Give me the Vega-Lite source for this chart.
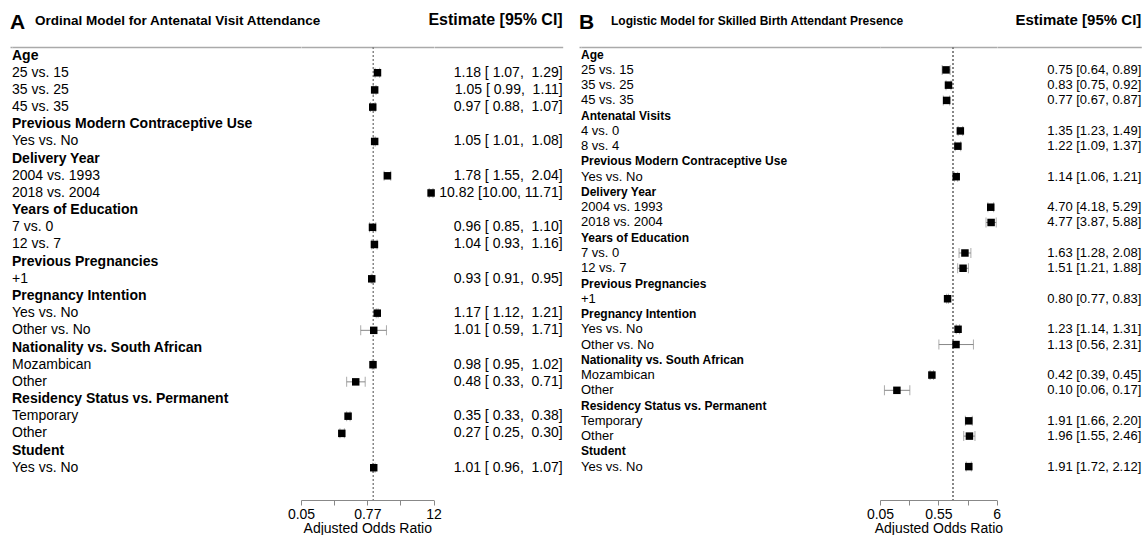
{
  "$schema": "https://vega.github.io/schema/vega-lite/v6.json",
  "padding": {"left": 10, "top": 11, "right": 4, "bottom": 0},
  "config": {
    "font": "Liberation Sans",
    "view": {"stroke": null},
    "title": {"color": "#000", "fontWeight": "bold", "baseline": "alphabetic", "frame": "group"}
  },
  "spacing": 16,
  "hconcat": [
    {
      "data": {"values": [
        {"id": "A01", "label": "Age", "type": "h"},
        {"id": "A02", "label": "25 vs. 15", "type": "i", "est": 1.18, "lo": 1.07, "hi": 1.29, "ci": "1.18 [\u00a01.07,\u00a0\u00a01.29]"},
        {"id": "A03", "label": "35 vs. 25", "type": "i", "est": 1.05, "lo": 0.99, "hi": 1.11, "ci": "1.05 [\u00a00.99,\u00a0\u00a01.11]"},
        {"id": "A04", "label": "45 vs. 35", "type": "i", "est": 0.97, "lo": 0.88, "hi": 1.07, "ci": "0.97 [\u00a00.88,\u00a0\u00a01.07]"},
        {"id": "A05", "label": "Previous Modern Contraceptive Use", "type": "h"},
        {"id": "A06", "label": "Yes vs. No", "type": "i", "est": 1.05, "lo": 1.01, "hi": 1.08, "ci": "1.05 [\u00a01.01,\u00a0\u00a01.08]"},
        {"id": "A07", "label": "Delivery Year", "type": "h"},
        {"id": "A08", "label": "2004 vs. 1993", "type": "i", "est": 1.78, "lo": 1.55, "hi": 2.04, "ci": "1.78 [\u00a01.55,\u00a0\u00a02.04]"},
        {"id": "A09", "label": "2018 vs. 2004", "type": "i", "est": 10.82, "lo": 10.0, "hi": 11.71, "ci": "10.82 [10.00, 11.71]"},
        {"id": "A10", "label": "Years of Education", "type": "h"},
        {"id": "A11", "label": "7 vs. 0", "type": "i", "est": 0.96, "lo": 0.85, "hi": 1.10, "ci": "0.96 [\u00a00.85,\u00a0\u00a01.10]"},
        {"id": "A12", "label": "12 vs. 7", "type": "i", "est": 1.04, "lo": 0.93, "hi": 1.16, "ci": "1.04 [\u00a00.93,\u00a0\u00a01.16]"},
        {"id": "A13", "label": "Previous Pregnancies", "type": "h"},
        {"id": "A14", "label": "+1", "type": "i", "est": 0.93, "lo": 0.91, "hi": 0.95, "ci": "0.93 [\u00a00.91,\u00a0\u00a00.95]"},
        {"id": "A15", "label": "Pregnancy Intention", "type": "h"},
        {"id": "A16", "label": "Yes vs. No", "type": "i", "est": 1.17, "lo": 1.12, "hi": 1.21, "ci": "1.17 [\u00a01.12,\u00a0\u00a01.21]"},
        {"id": "A17", "label": "Other vs. No", "type": "i", "est": 1.01, "lo": 0.59, "hi": 1.71, "ci": "1.01 [\u00a00.59,\u00a0\u00a01.71]"},
        {"id": "A18", "label": "Nationality vs. South African", "type": "h"},
        {"id": "A19", "label": "Mozambican", "type": "i", "est": 0.98, "lo": 0.95, "hi": 1.02, "ci": "0.98 [\u00a00.95,\u00a0\u00a01.02]"},
        {"id": "A20", "label": "Other", "type": "i", "est": 0.48, "lo": 0.33, "hi": 0.71, "ci": "0.48 [\u00a00.33,\u00a0\u00a00.71]"},
        {"id": "A21", "label": "Residency Status vs. Permanent", "type": "h"},
        {"id": "A22", "label": "Temporary", "type": "i", "est": 0.35, "lo": 0.33, "hi": 0.38, "ci": "0.35 [\u00a00.33,\u00a0\u00a00.38]"},
        {"id": "A23", "label": "Other", "type": "i", "est": 0.27, "lo": 0.25, "hi": 0.30, "ci": "0.27 [\u00a00.25,\u00a0\u00a00.30]"},
        {"id": "A24", "label": "Student", "type": "h"},
        {"id": "A25", "label": "Yes vs. No", "type": "i", "est": 1.01, "lo": 0.96, "hi": 1.07, "ci": "1.01 [\u00a00.96,\u00a0\u00a01.07]"}
      ]},
      "spacing": 0,
      "bounds": "flush",
      "hconcat": [
        {
          "width": 2, "height": 453,
          "title": {"text": "A", "anchor": "start", "fontSize": 21, "offset": 14},
          "mark": {"type": "text"},
          "encoding": {
            "x": {"datum": 0, "type": "quantitative", "scale": {"domain": [0, 1]}, "axis": {"orient": "top", "ticks": false, "labels": false, "title": null, "grid": false, "domainColor": "#aaa", "domainWidth": 1.5}},
            "text": {"value": ""}
          }
        },
        {
          "width": 288.7, "height": 453,
          "title": {"text": "Ordinal Model for Antenatal Visit Attendance", "anchor": "start", "dx": 23, "fontSize": 13.5, "offset": 19.5},
          "layer": [
            {
              "transform": [{"filter": "datum.type == 'h'"}],
              "mark": {"type": "text", "align": "left", "baseline": "middle", "fontWeight": "bold", "fontSize": 14},
              "encoding": {
                "x": {"datum": 0, "type": "quantitative", "scale": {"domain": [0, 1]}, "axis": {"orient": "top", "ticks": false, "labels": false, "title": null, "grid": false, "domainColor": "#aaa", "domainWidth": 1.5}},
                "y": {"field": "id", "type": "nominal", "sort": null, "axis": null, "scale": {"type": "band", "domain": ["A01","A02","A03","A04","A05","A06","A07","A08","A09","A10","A11","A12","A13","A14","A15","A16","A17","A18","A19","A20","A21","A22","A23","A24","A25"], "paddingInner": 0, "paddingOuter": 0.69, "align": 0}},
                "text": {"field": "label"}
              }
            },
            {
              "transform": [{"filter": "datum.type == 'i'"}],
              "mark": {"type": "text", "align": "left", "baseline": "middle", "fontSize": 14},
              "encoding": {
                "x": {"datum": 0, "type": "quantitative"},
                "y": {"field": "id", "type": "nominal", "sort": null, "axis": null},
                "text": {"field": "label"}
              }
            }
          ]
        },
        {
          "width": 132.6, "height": 453,
          "layer": [
            {
              "mark": {"type": "rule", "strokeDash": [2, 2], "color": "#888", "strokeWidth": 1},
              "encoding": {
                "x": {"datum": 1, "type": "quantitative", "scale": {"type": "log", "domain": [0.05, 12], "nice": false}, "axis": {"orient": "top", "ticks": false, "labels": false, "title": null, "grid": false, "domainColor": "#aaa", "domainWidth": 1.5}}
              }
            },
            {
              "transform": [{"filter": "datum.type == 'i'"}],
              "mark": {"type": "rule", "color": "#888", "strokeWidth": 1},
              "encoding": {
                "x": {"field": "lo", "type": "quantitative", "axis": {"orient": "bottom", "values": [0.05, 0.1968, 0.7746, 3.0488, 12], "labelExpr": "datum.value == 0.05 ? '0.05' : datum.value == 0.7746 ? '0.77' : datum.value == 12 ? '12' : ''", "title": "Adjusted Odds Ratio", "grid": false, "domainColor": "#888", "tickColor": "#888", "tickSize": 5, "labelFontSize": 14, "labelColor": "#000", "labelPadding": 2, "labelFlush": false, "labelOverlap": false, "titleFontSize": 14, "titleFontWeight": "normal", "titleColor": "#000", "titlePadding": 0}},
                "x2": {"field": "hi"},
                "y": {"field": "id", "type": "nominal", "sort": null, "axis": null, "scale": {"type": "band", "domain": ["A01","A02","A03","A04","A05","A06","A07","A08","A09","A10","A11","A12","A13","A14","A15","A16","A17","A18","A19","A20","A21","A22","A23","A24","A25"], "paddingInner": 0, "paddingOuter": 0.69, "align": 0}}
              }
            },
            {
              "transform": [{"filter": "datum.type == 'i'"}],
              "mark": {"type": "tick", "color": "#888", "size": 10, "thickness": 1},
              "encoding": {
                "x": {"field": "lo", "type": "quantitative", "axis": null},
                "y": {"field": "id", "type": "nominal", "sort": null, "axis": null}
              }
            },
            {
              "transform": [{"filter": "datum.type == 'i'"}],
              "mark": {"type": "tick", "color": "#888", "size": 10, "thickness": 1},
              "encoding": {
                "x": {"field": "hi", "type": "quantitative", "axis": null},
                "y": {"field": "id", "type": "nominal", "sort": null, "axis": null}
              }
            },
            {
              "transform": [{"filter": "datum.type == 'i'"}],
              "mark": {"type": "point", "shape": "square", "filled": true, "color": "#000", "size": 56, "opacity": 1},
              "encoding": {
                "x": {"field": "est", "type": "quantitative", "axis": null},
                "y": {"field": "id", "type": "nominal", "sort": null, "axis": null}
              }
            }
          ],
          "resolve": {"axis": {"x": "independent"}}
        },
        {
          "width": 128.7, "height": 453,
          "title": {"text": "Estimate [95% CI]", "anchor": "end", "fontSize": 16, "offset": 19.5},
          "transform": [{"filter": "datum.type == 'i'"}],
          "mark": {"type": "text", "align": "right", "baseline": "middle", "fontSize": 14},
          "encoding": {
            "x": {"datum": 1, "type": "quantitative", "scale": {"domain": [0, 1]}, "axis": {"orient": "top", "ticks": false, "labels": false, "title": null, "grid": false, "domainColor": "#aaa", "domainWidth": 1.5}},
            "y": {"field": "id", "type": "nominal", "sort": null, "axis": null, "scale": {"type": "band", "domain": ["A01","A02","A03","A04","A05","A06","A07","A08","A09","A10","A11","A12","A13","A14","A15","A16","A17","A18","A19","A20","A21","A22","A23","A24","A25"], "paddingInner": 0, "paddingOuter": 0.69, "align": 0}},
            "text": {"field": "ci"}
          }
        }
      ]
    },
    {
      "data": {"values": [
        {"id": "B01", "label": "Age", "type": "h"},
        {"id": "B02", "label": "25 vs. 15", "type": "i", "est": 0.75, "lo": 0.64, "hi": 0.89, "ci": "0.75 [0.64, 0.89]"},
        {"id": "B03", "label": "35 vs. 25", "type": "i", "est": 0.83, "lo": 0.75, "hi": 0.92, "ci": "0.83 [0.75, 0.92]"},
        {"id": "B04", "label": "45 vs. 35", "type": "i", "est": 0.77, "lo": 0.67, "hi": 0.87, "ci": "0.77 [0.67, 0.87]"},
        {"id": "B05", "label": "Antenatal Visits", "type": "h"},
        {"id": "B06", "label": "4 vs. 0", "type": "i", "est": 1.35, "lo": 1.23, "hi": 1.49, "ci": "1.35 [1.23, 1.49]"},
        {"id": "B07", "label": "8 vs. 4", "type": "i", "est": 1.22, "lo": 1.09, "hi": 1.37, "ci": "1.22 [1.09, 1.37]"},
        {"id": "B08", "label": "Previous Modern Contraceptive Use", "type": "h"},
        {"id": "B09", "label": "Yes vs. No", "type": "i", "est": 1.14, "lo": 1.06, "hi": 1.21, "ci": "1.14 [1.06, 1.21]"},
        {"id": "B10", "label": "Delivery Year", "type": "h"},
        {"id": "B11", "label": "2004 vs. 1993", "type": "i", "est": 4.70, "lo": 4.18, "hi": 5.29, "ci": "4.70 [4.18, 5.29]"},
        {"id": "B12", "label": "2018 vs. 2004", "type": "i", "est": 4.77, "lo": 3.87, "hi": 5.88, "ci": "4.77 [3.87, 5.88]"},
        {"id": "B13", "label": "Years of Education", "type": "h"},
        {"id": "B14", "label": "7 vs. 0", "type": "i", "est": 1.63, "lo": 1.28, "hi": 2.08, "ci": "1.63 [1.28, 2.08]"},
        {"id": "B15", "label": "12 vs. 7", "type": "i", "est": 1.51, "lo": 1.21, "hi": 1.88, "ci": "1.51 [1.21, 1.88]"},
        {"id": "B16", "label": "Previous Pregnancies", "type": "h"},
        {"id": "B17", "label": "+1", "type": "i", "est": 0.80, "lo": 0.77, "hi": 0.83, "ci": "0.80 [0.77, 0.83]"},
        {"id": "B18", "label": "Pregnancy Intention", "type": "h"},
        {"id": "B19", "label": "Yes vs. No", "type": "i", "est": 1.23, "lo": 1.14, "hi": 1.31, "ci": "1.23 [1.14, 1.31]"},
        {"id": "B20", "label": "Other vs. No", "type": "i", "est": 1.13, "lo": 0.56, "hi": 2.31, "ci": "1.13 [0.56, 2.31]"},
        {"id": "B21", "label": "Nationality vs. South African", "type": "h"},
        {"id": "B22", "label": "Mozambican", "type": "i", "est": 0.42, "lo": 0.39, "hi": 0.45, "ci": "0.42 [0.39, 0.45]"},
        {"id": "B23", "label": "Other", "type": "i", "est": 0.10, "lo": 0.06, "hi": 0.17, "ci": "0.10 [0.06, 0.17]"},
        {"id": "B24", "label": "Residency Status vs. Permanent", "type": "h"},
        {"id": "B25", "label": "Temporary", "type": "i", "est": 1.91, "lo": 1.66, "hi": 2.20, "ci": "1.91 [1.66, 2.20]"},
        {"id": "B26", "label": "Other", "type": "i", "est": 1.96, "lo": 1.55, "hi": 2.46, "ci": "1.96 [1.55, 2.46]"},
        {"id": "B27", "label": "Student", "type": "h"},
        {"id": "B28", "label": "Yes vs. No", "type": "i", "est": 1.91, "lo": 1.72, "hi": 2.12, "ci": "1.91 [1.72, 2.12]"}
      ]},
      "spacing": 0,
      "bounds": "flush",
      "hconcat": [
        {
          "width": 2, "height": 453,
          "title": {"text": "B", "anchor": "start", "fontSize": 21, "offset": 14},
          "mark": {"type": "text"},
          "encoding": {
            "x": {"datum": 0, "type": "quantitative", "scale": {"domain": [0, 1]}, "axis": {"orient": "top", "ticks": false, "labels": false, "title": null, "grid": false, "domainColor": "#aaa", "domainWidth": 1.5}},
            "text": {"value": ""}
          }
        },
        {
          "width": 299, "height": 453,
          "title": {"text": "Logistic Model for Skilled Birth Attendant Presence", "anchor": "start", "dx": 30, "fontSize": 12, "offset": 19.5},
          "layer": [
            {
              "transform": [{"filter": "datum.type == 'h'"}],
              "mark": {"type": "text", "align": "left", "baseline": "middle", "fontWeight": "bold", "fontSize": 12},
              "encoding": {
                "x": {"datum": 0, "type": "quantitative", "scale": {"domain": [0, 1]}, "axis": {"orient": "top", "ticks": false, "labels": false, "title": null, "grid": false, "domainColor": "#aaa", "domainWidth": 1.5}},
                "y": {"field": "id", "type": "nominal", "sort": null, "axis": null, "scale": {"type": "band", "domain": ["B01","B02","B03","B04","B05","B06","B07","B08","B09","B10","B11","B12","B13","B14","B15","B16","B17","B18","B19","B20","B21","B22","B23","B24","B25","B26","B27","B28"], "paddingInner": 0, "paddingOuter": 0.844, "align": 0}},
                "text": {"field": "label"}
              }
            },
            {
              "transform": [{"filter": "datum.type == 'i'"}],
              "mark": {"type": "text", "align": "left", "baseline": "middle", "fontSize": 13},
              "encoding": {
                "x": {"datum": 0, "type": "quantitative"},
                "y": {"field": "id", "type": "nominal", "sort": null, "axis": null},
                "text": {"field": "label"}
              }
            }
          ]
        },
        {
          "width": 116.7, "height": 453,
          "layer": [
            {
              "mark": {"type": "rule", "strokeDash": [2, 2], "color": "#888", "strokeWidth": 1},
              "encoding": {
                "x": {"datum": 1, "type": "quantitative", "scale": {"type": "log", "domain": [0.05, 6], "nice": false}, "axis": {"orient": "top", "ticks": false, "labels": false, "title": null, "grid": false, "domainColor": "#aaa", "domainWidth": 1.5}}
              }
            },
            {
              "transform": [{"filter": "datum.type == 'i'"}],
              "mark": {"type": "rule", "color": "#888", "strokeWidth": 1},
              "encoding": {
                "x": {"field": "lo", "type": "quantitative", "axis": {"orient": "bottom", "values": [0.05, 0.16549, 0.54772, 1.81279, 6], "labelExpr": "datum.value == 0.05 ? '0.05' : datum.value == 0.54772 ? '0.55' : datum.value == 6 ? '6' : ''", "title": "Adjusted Odds Ratio", "grid": false, "domainColor": "#888", "tickColor": "#888", "tickSize": 5, "labelFontSize": 14, "labelColor": "#000", "labelPadding": 2, "labelFlush": false, "labelOverlap": false, "titleFontSize": 14, "titleFontWeight": "normal", "titleColor": "#000", "titlePadding": 0}},
                "x2": {"field": "hi"},
                "y": {"field": "id", "type": "nominal", "sort": null, "axis": null, "scale": {"type": "band", "domain": ["B01","B02","B03","B04","B05","B06","B07","B08","B09","B10","B11","B12","B13","B14","B15","B16","B17","B18","B19","B20","B21","B22","B23","B24","B25","B26","B27","B28"], "paddingInner": 0, "paddingOuter": 0.844, "align": 0}}
              }
            },
            {
              "transform": [{"filter": "datum.type == 'i'"}],
              "mark": {"type": "tick", "color": "#888", "size": 10, "thickness": 1},
              "encoding": {
                "x": {"field": "lo", "type": "quantitative", "axis": null},
                "y": {"field": "id", "type": "nominal", "sort": null, "axis": null}
              }
            },
            {
              "transform": [{"filter": "datum.type == 'i'"}],
              "mark": {"type": "tick", "color": "#888", "size": 10, "thickness": 1},
              "encoding": {
                "x": {"field": "hi", "type": "quantitative", "axis": null},
                "y": {"field": "id", "type": "nominal", "sort": null, "axis": null}
              }
            },
            {
              "transform": [{"filter": "datum.type == 'i'"}],
              "mark": {"type": "point", "shape": "square", "filled": true, "color": "#000", "size": 56, "opacity": 1},
              "encoding": {
                "x": {"field": "est", "type": "quantitative", "axis": null},
                "y": {"field": "id", "type": "nominal", "sort": null, "axis": null}
              }
            }
          ],
          "resolve": {"axis": {"x": "independent"}}
        },
        {
          "width": 144.3, "height": 453,
          "title": {"text": "Estimate [95% CI]", "anchor": "end", "fontSize": 15, "offset": 19.5},
          "transform": [{"filter": "datum.type == 'i'"}],
          "mark": {"type": "text", "align": "right", "baseline": "middle", "fontSize": 13},
          "encoding": {
            "x": {"datum": 1, "type": "quantitative", "scale": {"domain": [0, 1]}, "axis": {"orient": "top", "ticks": false, "labels": false, "title": null, "grid": false, "domainColor": "#aaa", "domainWidth": 1.5}},
            "y": {"field": "id", "type": "nominal", "sort": null, "axis": null, "scale": {"type": "band", "domain": ["B01","B02","B03","B04","B05","B06","B07","B08","B09","B10","B11","B12","B13","B14","B15","B16","B17","B18","B19","B20","B21","B22","B23","B24","B25","B26","B27","B28"], "paddingInner": 0, "paddingOuter": 0.844, "align": 0}},
            "text": {"field": "ci"}
          }
        }
      ]
    }
  ]
}
